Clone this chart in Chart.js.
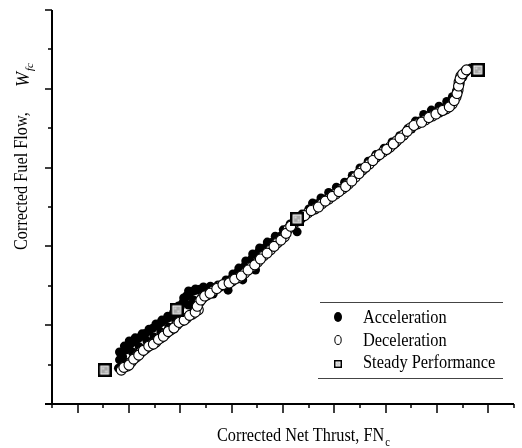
<!DOCTYPE html>
<html>
<head>
<meta charset="utf-8">
<script src="https://cdn.jsdelivr.net/npm/chart.js@4"></script>
<style>
html,body{margin:0;padding:0;background:#fff;}
canvas{display:block;}
</style>
</head>
<body>
<canvas id="c" width="522" height="448"></canvas>
<script>
// ---- data (arbitrary corrected units) ----
const accelThrust = [2.59,2.63,2.70,2.86,3.05,3.28,3.51,3.78,4.05,4.28,4.51,4.74,4.93,5.09,5.24,5.40,5.63,5.90,6.17,6.43,6.70,6.97,7.24,7.51,7.78,8.05,8.32,8.59,8.90,9.20,9.47,9.55,
  9.74,10.01,10.32,10.63,10.93,11.24,11.55,11.86,12.17,12.47,12.78,13.09,13.40,13.70,14.01,14.32,14.63,14.93,15.24,15.51,15.70,15.82,15.90,16.01,16.17,16.32,
  2.82,3.13,3.40,3.70,3.97,4.24,4.55,4.82,5.32,5.51,6.28,6.86,7.43,7.93,
  2.75,2.95,3.17,3.40,3.64,3.92,4.17,4.40,4.62,4.84,5.00,5.16,5.32,5.52,5.76,6.04,6.30,6.56,6.84,7.10,7.38,7.64,7.92,8.18,8.45,8.75,9.05,9.33,
  10.15,10.48,10.78,11.08,11.40,11.70,12.00,12.32,12.62,12.94,13.25,13.55,13.86,14.16,14.48,14.78,15.08,15.38,15.60,15.76,
  2.63,2.82,3.01,3.24,3.51,3.78,4.05,4.28,4.51,4.74,4.93,5.13,5.32,5.59,5.90,6.17,6.47,6.78,7.05,7.28,7.55,7.82,8.09,8.39,8.70,9.01,9.28];
const accelFuel = [0.91,1.12,1.27,1.37,1.52,1.62,1.73,1.85,1.98,2.08,2.18,2.28,2.39,2.56,2.74,2.84,2.89,2.92,2.94,2.97,3.05,3.17,3.35,3.50,3.68,3.86,3.98,4.11,4.26,4.44,4.62,4.37,
  4.82,4.95,5.08,5.20,5.33,5.46,5.61,5.79,5.99,6.14,6.32,6.47,6.62,6.80,6.98,7.18,7.31,7.41,7.51,7.64,7.74,7.92,8.12,8.30,8.45,8.53,
  1.07,1.32,1.45,1.60,1.70,1.83,1.95,2.11,2.51,2.64,2.79,2.89,3.15,3.40,
  1.20,1.45,1.57,1.68,1.79,1.92,2.03,2.13,2.23,2.33,2.47,2.65,2.79,2.87,2.91,2.93,2.96,3.01,3.11,3.26,3.43,3.59,3.77,3.92,4.05,4.18,4.35,4.53,
  5.10,5.23,5.37,5.50,5.63,5.80,5.99,6.16,6.33,6.49,6.65,6.81,6.99,7.18,7.35,7.46,7.56,7.68,7.80,7.94,
  1.32,1.47,1.60,1.68,1.78,1.90,2.03,2.13,2.23,2.33,2.49,2.69,2.87,2.92,2.97,2.99,3.02,3.15,3.30,3.45,3.63,3.81,3.96,4.11,4.26,4.42,4.57];

const decelThrust = [2.70,2.93,3.09,3.28,3.47,3.67,3.86,4.05,4.24,4.43,4.63,4.86,5.05,5.24,5.47,5.70,5.74,5.86,6.05,6.28,6.55,6.78,7.01,7.24,7.51,7.78,8.01,8.24,8.51,8.78,9.05,9.20,9.40,
  9.70,9.97,10.24,10.51,10.78,11.05,11.32,11.55,11.82,12.09,12.36,12.63,12.90,13.17,13.43,13.70,13.97,14.24,14.55,14.82,15.09,15.36,15.59,15.74,15.82,15.86,15.93,16.09,
  2.80,3.00,3.18,3.38,3.56,3.77,3.95,4.15,4.34,4.53,4.75,4.95,5.15,5.36,5.58,5.66,5.80,5.95,6.16,6.42,6.66,6.90,7.12,7.38,7.64,7.90,8.12,8.38,8.65,8.92,9.12,9.30,9.55,
  9.84,10.10,10.38,10.65,10.92,11.18,11.44,11.68,11.96,12.22,12.50,12.76,13.04,13.30,13.56,13.84,14.10,14.40,14.68,14.96,15.22,15.48,15.67,15.78,15.84,15.90,16.00,16.15];
const decelFuel = [0.86,0.96,1.07,1.19,1.32,1.42,1.50,1.57,1.68,1.78,1.88,2.01,2.11,2.18,2.28,2.39,2.59,2.69,2.77,2.87,2.99,3.05,3.12,3.20,3.32,3.48,3.60,3.76,3.91,4.09,4.24,4.44,4.57,
  4.72,4.85,4.95,5.08,5.20,5.33,5.46,5.58,5.76,5.94,6.09,6.27,6.40,6.52,6.68,6.83,7.01,7.11,7.21,7.31,7.41,7.49,7.61,7.79,7.97,8.17,8.32,8.43,
  0.93,0.99,1.14,1.24,1.36,1.47,1.52,1.64,1.72,1.84,1.93,2.07,2.13,2.25,2.33,2.48,2.64,2.74,2.81,2.93,3.03,3.07,3.17,3.25,3.40,3.53,3.68,3.83,4.00,4.16,4.33,4.51,4.64,
  4.78,4.91,5.00,5.15,5.27,5.39,5.52,5.66,5.85,6.01,6.18,6.33,6.46,6.60,6.75,6.92,7.07,7.15,7.27,7.36,7.45,7.54,7.70,7.88,8.07,8.25,8.38,8.48];

const steadyThrust = [2.05,4.86,9.55,16.59];
const steadyFuel = [0.86,2.39,4.70,8.48];

const seriesLabels = ['Acceleration','Deceleration','Steady Performance'];
const xRange = [0,18];
const yRange = [0,10];

function pairs(xs, ys){ return xs.map((x,i)=>({x:x, y:ys[i]})); }

// square marker for steady points
function makeSquare(s, frame){
  const cv = document.createElement('canvas');
  cv.width = s; cv.height = s;
  const g = cv.getContext('2d');
  g.fillStyle = '#000'; g.fillRect(0,0,s,s);
  g.fillStyle = '#fff'; g.fillRect(frame,frame,s-2*frame,s-2*frame);
  g.fillStyle = '#a9a9a9'; g.fillRect(frame+1,frame+1,s-2*frame-2,s-2*frame-2);
  g.fillStyle = '#d8d8d8'; g.fillRect(frame+2,frame+2,2,2); g.fillRect(s-frame-4,s-frame-4,2,2);
  return cv;
}
const sqBig = makeSquare(14, 2.5);
const sqSmall = makeSquare(8, 1.5);

const SERIF = '"Liberation Serif", "DejaVu Serif", serif';

const decor = {
  id: 'decor',
  afterDraw(chart){
    const ctx = chart.ctx;
    const xs = chart.scales.x, ys = chart.scales.y;
    const L = xs.getPixelForValue(xRange[0]), R = xs.getPixelForValue(xRange[1]);
    const B = ys.getPixelForValue(yRange[0]), T = ys.getPixelForValue(yRange[1]);
    ctx.save();
    ctx.strokeStyle = '#000';
    ctx.lineWidth = 2;
    ctx.beginPath();
    ctx.moveTo(L, T); ctx.lineTo(L, B);
    ctx.moveTo(L-7, B); ctx.lineTo(R, B);
    ctx.stroke();
    ctx.lineWidth = 1.5;
    ctx.beginPath();
    for (let v = yRange[0]; v <= yRange[1]; v++){
      const p = Math.round(ys.getPixelForValue(v));
      const len = (v % 2 === 0) ? 7 : 4;
      ctx.moveTo(L - len, p); ctx.lineTo(L, p);
    }
    for (let v = xRange[0]; v <= xRange[1]; v++){
      const p = Math.round(xs.getPixelForValue(v));
      const len = (v % 2 === 1) ? 9 : 4;
      ctx.moveTo(p, B); ctx.lineTo(p, B + len);
    }
    ctx.stroke();

    // x title
    ctx.fillStyle = '#000';
    ctx.textBaseline = 'alphabetic';
    ctx.textAlign = 'left';
    ctx.save();
    ctx.translate(217, 441);
    ctx.scale(0.88, 1);
    ctx.font = '18.5px ' + SERIF;
    const xt = 'Corrected Net Thrust, FN';
    ctx.fillText(xt, 0, 0);
    const xw = ctx.measureText(xt).width;
    ctx.font = '12px ' + SERIF;
    ctx.fillText('c', xw + 1, 5);
    ctx.restore();

    // y title
    ctx.save();
    ctx.translate(27, 250);
    ctx.rotate(-Math.PI/2);
    ctx.scale(0.88, 1);
    ctx.font = '18.5px ' + SERIF;
    const yt = 'Corrected Fuel Flow,';
    ctx.fillText(yt, 0, 0);
    ctx.restore();
    ctx.save();
    ctx.translate(29, 87);
    ctx.rotate(-Math.PI/2);
    ctx.font = 'italic 18px ' + SERIF;
    ctx.fillText('W', 0, 0);
    const ww = ctx.measureText('W').width;
    ctx.font = 'italic 11px ' + SERIF;
    ctx.fillText('fc', ww + 1, 4);
    ctx.restore();

    // legend
    ctx.strokeStyle = '#444';
    ctx.lineWidth = 1;
    ctx.beginPath();
    ctx.moveTo(320, 302.5); ctx.lineTo(503, 302.5);
    ctx.moveTo(318, 378.5); ctx.lineTo(503, 378.5);
    ctx.stroke();
    const mx = 338, tx = 363, rows = [323, 345.5, 368];
    ctx.font = '18px ' + SERIF;
    ctx.fillStyle = '#000';
    seriesLabels.forEach((lab, i) => {
      ctx.save();
      ctx.translate(tx, rows[i]);
      ctx.scale(0.91, 1);
      ctx.fillText(lab, 0, 0);
      ctx.restore();
    });
    ctx.beginPath();
    ctx.ellipse(mx, 317, 4, 5, 0, 0, Math.PI*2);
    ctx.fill();
    ctx.beginPath();
    ctx.ellipse(mx, 340, 3.2, 4.5, 0, 0, Math.PI*2);
    ctx.lineWidth = 1;
    ctx.strokeStyle = '#000';
    ctx.stroke();
    ctx.drawImage(sqSmall, mx - 4, 360);
    ctx.restore();
  }
};

new Chart(document.getElementById('c'), {
  type: 'scatter',
  data: {
    datasets: [
      { label: seriesLabels[0], data: pairs(accelThrust, accelFuel), pointRadius: 4.5, pointBackgroundColor: '#000', pointBorderColor: '#000', borderWidth: 0, pointBorderWidth: 0, order: 3 },
      { label: seriesLabels[1], data: pairs(decelThrust, decelFuel), pointRadius: 5, pointBackgroundColor: '#fff', pointBorderColor: '#000', pointBorderWidth: 1.1, order: 2 },
      { label: seriesLabels[2], data: pairs(steadyThrust, steadyFuel), pointStyle: sqBig, pointRadius: 7, order: 1 }
    ]
  },
  options: {
    responsive: false,
    devicePixelRatio: 1,
    animation: false,
    layout: { padding: { left: 52, right: 2, top: 10, bottom: 44 } },
    plugins: { legend: { display: false }, tooltip: { enabled: false } },
    scales: {
      x: { type: 'linear', min: xRange[0], max: xRange[1], display: false },
      y: { type: 'linear', min: yRange[0], max: yRange[1], display: false }
    },
    events: []
  },
  plugins: [decor]
});
</script>
</body>
</html>
